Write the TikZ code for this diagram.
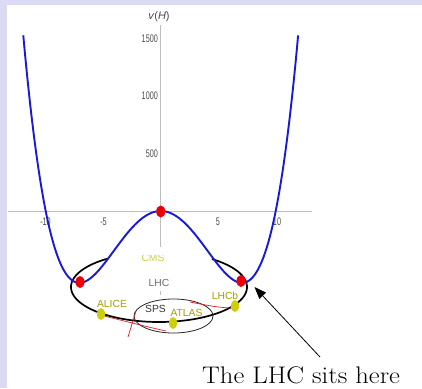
\documentclass[tikz,border=0pt]{standalone}
\usepackage{fontspec}
\newfontfamily\plotfont{Liberation Sans}
\usetikzlibrary{arrows.meta,shapes.geometric}
\definecolor{lav}{RGB}{218,218,242}
\definecolor{curveblue}{RGB}{25,25,215}
\definecolor{dotred}{RGB}{238,0,0}
\definecolor{dotyellow}{RGB}{206,206,10}
\definecolor{olive}{RGB}{160,160,0}
\definecolor{lightolive}{RGB}{205,205,70}
\definecolor{axisgray}{RGB}{190,190,190}
\definecolor{ticktext}{RGB}{75,75,75}
\definecolor{thinred}{RGB}{220,30,30}
\tikzset{
  axisline/.style={draw=axisgray, line width=0.9pt},
  ticklbl/.style={font=\plotfont\fontsize{11}{12}\selectfont, text=ticktext, inner sep=0pt, xscale=0.66},
  curve/.style={draw=curveblue, line width=1.9pt},
  ring/.style={draw=black, line width=1.7pt},
  spsring/.style={draw=black!85, line width=0.8pt},
  redthin/.style={draw=thinred, line width=0.7pt},
  reddot/.style={ellipse, fill=dotred, minimum width=9pt, minimum height=12pt, inner sep=0pt},
  ydot/.style={ellipse, fill=dotyellow, minimum width=8pt, minimum height=12pt, inner sep=0pt},
  exptlbl/.style={font=\plotfont\fontsize{10.3}{11}\selectfont, text=olive, inner sep=0pt},
  notearrow/.style={draw=black, line width=0.8pt, -{Triangle[length=12pt,width=9pt]}}
}
\begin{document}
\begin{tikzpicture}[x=1pt,y=-1pt]
\useasboundingbox (0,0) rectangle (422,388);
\fill[lav] (0,0) rectangle (422,388);
\fill[white] (7,5) rectangle (422,388);
% axes
\coordinate (xl) at (8,211);
\coordinate (xr) at (312,211);
\coordinate (yt) at (160.7,25);
\coordinate (yb) at (160.7,247);
\draw[axisline] (xl) -- (xr);
\draw[axisline] (yt) -- (yb);
\node[font=\plotfont\fontsize{11}{12}\selectfont, text=ticktext, inner sep=0pt] (vlab) at (159,17) {\textit{v}(\textit{H})};
\node[ticklbl, anchor=east] (t1500) at (158,38.5) {1500};
\node[ticklbl, anchor=east] (t1000) at (158,96) {1000};
\node[ticklbl, anchor=east] (t500) at (158,154) {500};
\node[ticklbl] (tm10) at (45.5,222) {-10};
\node[ticklbl] (tm5) at (103.5,222) {-5};
\node[ticklbl] (tp5) at (218,222) {5};
\node[ticklbl] (tp10) at (277,222) {10};
% LHC ring (visible part)
\draw[ring] plot[domain=-53:234, samples=150, smooth] ({159+88*cos(\x)},{287+35*sin(\x)});
% SPS ring
\draw[spsring] (173.5,316) ellipse [x radius=39.5pt, y radius=17pt];
% red thin lines
\coordinate (ra) at (128,337);
\coordinate (rb) at (136,311);
\draw[redthin] (ra) -- (rb);
\coordinate (rc) at (104,316);
\coordinate (rd) at (166,331);
\draw[redthin] (rc) .. controls (128,322) and (148,327) .. (rd);
\coordinate (re) at (190,302);
\coordinate (rf) at (233,308);
\draw[redthin] (re) .. controls (205,305) and (220,308) .. (rf);
% potential curve
\draw[curve] plot[domain=-11.95:11.95, samples=241, smooth] ({160.7+11.5*\x},{211-0.02875*\x*\x*(\x*\x-100)});
% red dots
\node[reddot] (top) at (160.7,211.5) {};
\node[reddot] (minl) at (80,282) {};
\node[reddot] (minr) at (241,281) {};
% labels
\begin{scope}
\clip (130,255.5) rectangle (180,270);
\node[exptlbl, text=lightolive] (cms) at (153,257.5) {CMS};
\end{scope}
\node[exptlbl, text=black!58] (lhc) at (159,282.5) {LHC};
\draw[draw=black!25, line width=0.6pt] (160.7,291) -- (160.7,295);
\node[exptlbl, text=black!80] (sps) at (155.5,308.5) {SPS};
\node[exptlbl] (alicel) at (112,303.5) {ALICE};
\node[exptlbl] (atlasl) at (186.5,313) {ATLAS};
\node[exptlbl] (lhcbl) at (225,295.5) {LHCb};
\node[ydot] (alice) at (101,314) {};
\node[ydot] (atlas) at (173,323) {};
\node[ydot] (lhcb) at (235,306) {};
% note
\node[anchor=base west, inner sep=0pt] (note) at (202,383) {\scalebox{1.11}[1]{\fontsize{24}{28}\selectfont The LHC sits here}};
\coordinate (tail) at (320,357);
\coordinate (tip) at (254.5,287);
\draw[notearrow] (tail) -- (tip);
\end{tikzpicture}
\end{document}
